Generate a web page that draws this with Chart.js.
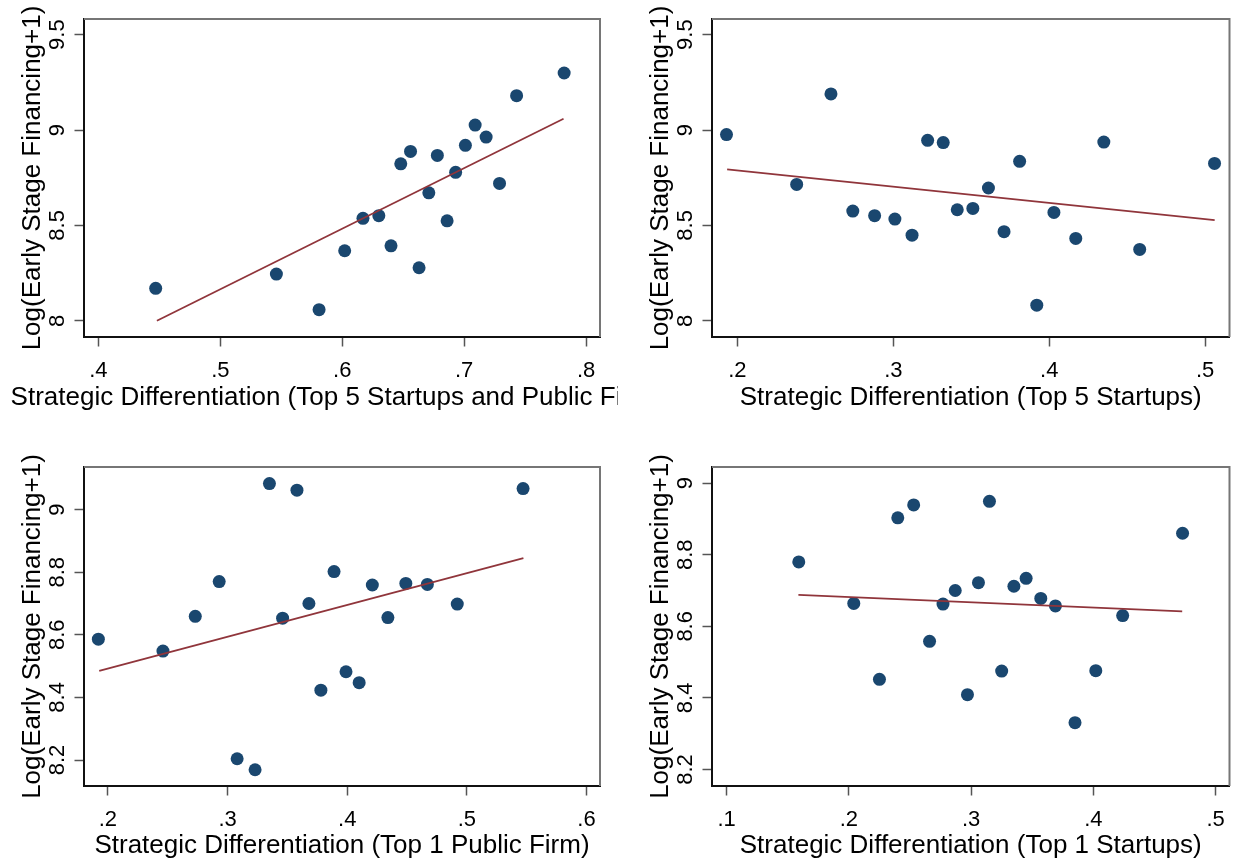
<!DOCTYPE html>
<html><head><meta charset="utf-8">
<script src="https://cdn.jsdelivr.net/npm/chart.js@4.4.1/dist/chart.umd.min.js"></script>
<style>
html,body{margin:0;padding:0;background:#fff;}
body{width:1236px;height:862px;position:relative;overflow:hidden;}
canvas{position:absolute;}
</style></head><body>
<canvas id="c1" width="618" height="448" style="left:0;top:0"></canvas>
<canvas id="c2" width="618" height="448" style="left:618px;top:0"></canvas>
<canvas id="c3" width="618" height="414" style="left:0;top:448px"></canvas>
<canvas id="c4" width="618" height="414" style="left:618px;top:448px"></canvas>
<script>
// ---- text ----
const yTitle = 'Log(Early Stage Financing+1)';
const xTitle1 = 'Strategic Differentiation (Top 5 Startups and Public Firms)';
const xTitle2 = 'Strategic Differentiation (Top 5 Startups)';
const xTitle3 = 'Strategic Differentiation (Top 1 Public Firm)';
const xTitle4 = 'Strategic Differentiation (Top 1 Startups)';

// ---- panel 1 ----
const p1X = [.447, .546, .581, .602, .617, .630, .640, .648, .656, .663, .671, .678, .686, .693, .701, .709, .718, .729, .743, .782];
const p1Y = [8.170, 8.245, 8.058, 8.367, 8.537, 8.551, 8.393, 8.823, 8.888, 8.278, 8.671, 8.867, 8.524, 8.778, 8.920, 9.026, 8.963, 8.720, 9.180, 9.299];
const p1FitX = [.448, .7815];
const p1FitY = [8.000, 9.059];
const p1XTicks = [.4, .5, .6, .7, .8];
const p1XLabels = ['.4', '.5', '.6', '.7', '.8'];
const p1YTicks = [8, 8.5, 9, 9.5];
const p1YLabels = ['8', '8.5', '9', '9.5'];

// ---- panel 2 ----
const p2X = [.193, .238, .260, .274, .288, .301, .312, .322, .332, .341, .351, .361, .371, .381, .392, .403, .417, .435, .458, .506];
const p2Y = [8.976, 8.715, 9.189, 8.575, 8.551, 8.533, 8.449, 8.946, 8.934, 8.582, 8.589, 8.696, 8.467, 8.836, 8.082, 8.568, 8.432, 8.937, 8.374, 8.825];
const p2FitX = [.1934, .5061];
const p2FitY = [8.794, 8.528];
const p2XTicks = [.2, .3, .4, .5];
const p2XLabels = ['.2', '.3', '.4', '.5'];
const p2YTicks = [8, 8.5, 9, 9.5];
const p2YLabels = ['8', '8.5', '9', '9.5'];

// ---- panel 3 ----
const p3X = [.192, .246, .273, .293, .308, .323, .335, .346, .358, .368, .378, .389, .399, .410, .421, .434, .449, .467, .492, .547];
const p3Y = [8.586, 8.548, 8.659, 8.770, 8.204, 8.169, 9.083, 8.653, 9.062, 8.700, 8.423, 8.802, 8.482, 8.447, 8.759, 8.655, 8.764, 8.761, 8.698, 9.067];
const p3FitX = [.1927, .5473];
const p3FitY = [8.485, 8.845];
const p3XTicks = [.2, .3, .4, .5, .6];
const p3XLabels = ['.2', '.3', '.4', '.5', '.6'];
const p3YTicks = [8.2, 8.4, 8.6, 8.8, 9];
const p3YLabels = ['8.2', '8.4', '8.6', '8.8', '9'];

// ---- panel 4 ----
const p4X = [.159, .204, .225, .240, .253, .266, .277, .287, .297, .306, .315, .325, .335, .345, .357, .369, .385, .402, .424, .473];
const p4Y = [8.780, 8.664, 8.452, 8.903, 8.939, 8.558, 8.662, 8.700, 8.409, 8.722, 8.949, 8.475, 8.712, 8.734, 8.678, 8.657, 8.331, 8.476, 8.630, 8.860];
const p4FitX = [.1587, .4727];
const p4FitY = [8.688, 8.642];
const p4XTicks = [.1, .2, .3, .4, .5];
const p4XLabels = ['.1', '.2', '.3', '.4', '.5'];
const p4YTicks = [8.2, 8.4, 8.6, 8.8, 9];
const p4YLabels = ['8.2', '8.4', '8.6', '8.8', '9'];

const FONT = '"Liberation Sans", Arial, Helvetica, sans-serif';

const framePlugin = {
  id: 'frame',
  beforeDatasetsDraw(chart) {
    const ctx = chart.ctx, a = chart.chartArea;
    ctx.save();
    ctx.strokeStyle = '#767676';
    ctx.lineWidth = 2;
    ctx.beginPath();
    ctx.moveTo(a.left, a.top);
    ctx.lineTo(a.right, a.top);
    ctx.lineTo(a.right, a.bottom);
    ctx.stroke();
    ctx.restore();
  },
  afterDraw(chart, args, opts) {
    const ctx = chart.ctx, a = chart.chartArea;
    ctx.save();
    ctx.fillStyle = '#000';
    ctx.font = '26px ' + FONT;
    ctx.textAlign = 'center';
    ctx.textBaseline = 'alphabetic';
    ctx.fillText(opts.xTitle, (a.left + a.right) / 2, opts.xTitleY);
    ctx.translate(a.left - 43.6, (a.top + a.bottom) / 2);
    ctx.rotate(-Math.PI / 2);
    ctx.fillText(opts.yTitle, 0, 0);
    ctx.restore();
  }
};

function makePanel(id, xs, ys, fx, fy, xTicks, xLabels, yTicks, yLabels, xr, yr, boxLeft, boxRight, boxBottom, xTitle) {
  const cv = document.getElementById(id);
  const W = cv.width, H = cv.height;
  const pts = xs.map((x, i) => ({x: x, y: ys[i]}));
  const fit = fx.map((x, i) => ({x: x, y: fy[i]}));
  const lab = (vals, labels) => (v) => {
    const i = vals.findIndex(t => Math.abs(t - v) < 1e-9);
    return i >= 0 ? labels[i] : '';
  };
  new Chart(cv, {
    type: 'scatter',
    data: {
      datasets: [
        {type: 'line', data: fit, borderColor: '#90353b', borderWidth: 1.8, pointRadius: 0, fill: false, tension: 0, order: 0},
        {data: pts, backgroundColor: '#1a476f', borderWidth: 0, pointRadius: 6.5, pointHoverRadius: 6.5, order: 1}
      ]
    },
    options: {
      responsive: false,
      devicePixelRatio: 1,
      animation: false,
      events: [],
      layout: {padding: {left: 0, right: W - boxRight, top: 19, bottom: 0}},
      plugins: {
        legend: {display: false},
        tooltip: {enabled: false},
        frame: {xTitle: xTitle, yTitle: yTitle, xTitleY: 405}
      },
      scales: {
        x: {
          type: 'linear', position: 'bottom', min: xr[0], max: xr[1],
          afterBuildTicks: s => { s.ticks = xTicks.map(v => ({value: v})); },
          afterFit: s => { s.height = H - boxBottom; },
          ticks: {callback: lab(xTicks, xLabels), color: '#000', font: {family: FONT, size: 22}, padding: 11, autoSkip: false, maxRotation: 0, minRotation: 0},
          grid: {drawOnChartArea: false, drawTicks: true, tickLength: 9.5, color: '#555', tickWidth: 1.5},
          border: {display: true, color: '#111', width: 2}
        },
        y: {
          type: 'linear', position: 'left', min: yr[0], max: yr[1],
          afterBuildTicks: s => { s.ticks = yTicks.map(v => ({value: v})); },
          afterFit: s => { s.width = boxLeft; },
          ticks: {callback: lab(yTicks, yLabels), color: '#000', font: {family: FONT, size: 22}, padding: 1, autoSkip: false, minRotation: 90, maxRotation: 90, crossAlign: 'center'},
          grid: {drawOnChartArea: false, drawTicks: true, tickLength: 9.5, color: '#555', tickWidth: 1.5},
          border: {display: true, color: '#111', width: 2}
        }
      }
    },
    plugins: [framePlugin]
  });
}

makePanel('c1', p1X, p1Y, p1FitX, p1FitY, p1XTicks, p1XLabels, p1YTicks, p1YLabels, [.3882, .8114], [7.915, 9.582], 84, 600, 337, xTitle1);
makePanel('c2', p2X, p2Y, p2FitX, p2FitY, p2XTicks, p2XLabels, p2YTicks, p2YLabels, [.1837, .5156], [7.915, 9.582], 94, 612, 337, xTitle2);
makePanel('c3', p3X, p3Y, p3FitX, p3FitY, p3XTicks, p3XLabels, p3YTicks, p3YLabels, [.1800, .6113], [8.117, 9.136], 84, 600, 338, xTitle3);
makePanel('c4', p4X, p4Y, p4FitX, p4FitY, p4XTicks, p4XLabels, p4YTicks, p4YLabels, [.0880, .5114], [8.154, 9.045], 94, 612, 338, xTitle4);
</script>
</body></html>
